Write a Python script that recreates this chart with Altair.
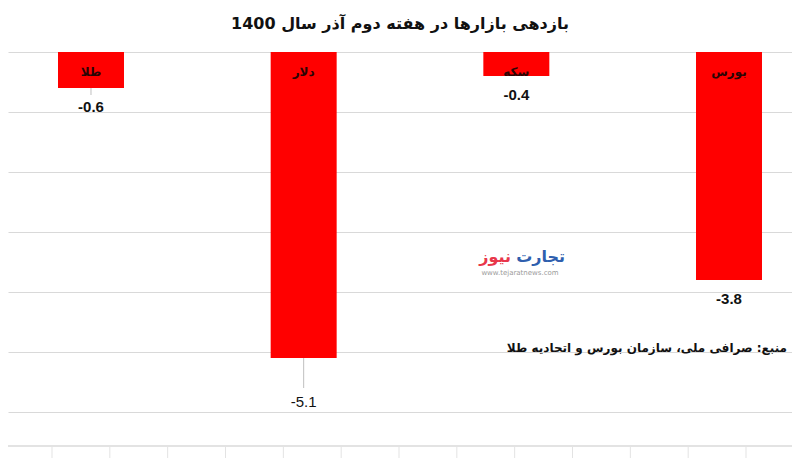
import altair as alt
import pandas as pd

# ---- data ----
categories = ["طلا", "دلار", "سکه", "بورس"]
returns = [-0.6, -5.1, -0.4, -3.8]
grid_values = [0, -1, -2, -3, -4, -5, -6]
title_text = "بازدهی بازارها در هفته دوم آذر سال 1400"
source_text = "منبع: صرافی ملی، سازمان بورس و اتحادیه طلا"
logo_a = "تجارت"
logo_b = "نیوز"
logo_url = "www.tejaratnews.com"
sheet_columns = list(range(13))

df = pd.DataFrame({"cat": categories, "val": returns})
df["lbl"] = [f"{v:.1f}" for v in returns]
cells = pd.DataFrame({"col": sheet_columns})

W, H = 784, 396

xenc = alt.X("cat:N", sort=categories, axis=None,
             scale=alt.Scale(paddingInner=0.6897, paddingOuter=0.1881, align=0.625))
yscale = alt.Scale(domain=[-6.6, 0], nice=False, zero=False)
yaxis = alt.Axis(values=grid_values, labels=False, ticks=False, domain=False,
                 title=None, grid=True, gridColor="#d9d9d9", gridWidth=1)
yenc = alt.Y("val:Q", scale=yscale, axis=yaxis)

base = alt.Chart(df)

bars = base.mark_bar(color="#ff0000").encode(x=xenc, y=yenc, y2=alt.datum(0))

cat_labels = base.mark_text(font="DejaVu Sans", fontWeight="bold", fontSize=12,
                            color="#2a0505", baseline="middle", dy=20).encode(
    x=xenc, y=alt.datum(0, scale=yscale, axis=yaxis), text="cat:N")

normal = base.transform_filter(alt.datum.cat != "دلار")
val_labels = normal.mark_text(font="Liberation Sans", fontWeight="bold", fontSize=15,
                              color="#111", baseline="middle", dy=19).encode(
    x=xenc, y=yenc, text="lbl:N")

dollar = base.transform_filter(alt.datum.cat == "دلار")
dollar_label = dollar.mark_text(font="Liberation Sans", fontSize=15, color="#111",
                                baseline="middle", dy=44).encode(
    x=xenc, y=yenc, text="lbl:N")
dollar_leader = dollar.mark_rule(color="#bfbfbf", y2Offset=30).encode(
    x=xenc, y=yenc, y2="val:Q")

gold = base.transform_filter(alt.datum.cat == "طلا")
gold_leader = gold.mark_rule(color="#bfbfbf", y2Offset=7).encode(
    x=xenc, y=yenc, y2="val:Q")

source = alt.Chart(pd.DataFrame({"t": [source_text]})).mark_text(
    font="DejaVu Sans", fontWeight="bold", fontSize=12, color="#111",
    align="right", baseline="middle").encode(
    x=alt.value(779), y=alt.value(296), text="t:N")

logo1 = alt.Chart(pd.DataFrame({"t": [logo_a]})).mark_text(
    font="DejaVu Sans", fontWeight="bold", fontSize=16, color="#2f5fae",
    align="right", baseline="middle").encode(
    x=alt.value(557), y=alt.value(205), text="t:N")
logo2 = alt.Chart(pd.DataFrame({"t": [logo_b]})).mark_text(
    font="DejaVu Sans", fontWeight="bold", fontSize=16, color="#e8374a",
    align="right", baseline="middle").encode(
    x=alt.value(503), y=alt.value(205), text="t:N")
logo3 = alt.Chart(pd.DataFrame({"t": [logo_url]})).mark_text(
    font="DejaVu Sans", fontSize=7, color="#9a9a9a",
    align="center", baseline="middle").encode(
    x=alt.value(512), y=alt.value(221), text="t:N")

main = alt.layer(bars, gold_leader, dollar_leader, cat_labels, val_labels, dollar_label,
                 source, logo1, logo2, logo3)

sheet_h = alt.Chart(pd.DataFrame({"c": [0]})).mark_rect(color="#e3e3e3").encode(
    x=alt.value(0), x2=alt.value(W), y=alt.value(393), y2=alt.value(395))
sheet_v = alt.Chart(cells).mark_rule(color="#e3e3e3").encode(
    x=alt.X("col:Q", scale=alt.Scale(domain=[0, 12], range=[44, 738]), axis=None),
    y=alt.value(394), y2=alt.value(410))

chart = alt.layer(main, sheet_h, sheet_v).resolve_scale(x="independent").properties(
    width=W, height=H, background="white",
    title=alt.TitleParams(title_text, font="DejaVu Sans", fontWeight="bold", fontSize=16,
                          color="#111", anchor="middle", offset=20),
    autosize=alt.AutoSizeParams(type="none"),
    padding={"left": 0, "top": 44, "right": 0, "bottom": 10},
).configure_view(stroke=None).configure_axis(domain=False)

chart.save("out.html", embed_options={"renderer": "svg", "actions": False})
